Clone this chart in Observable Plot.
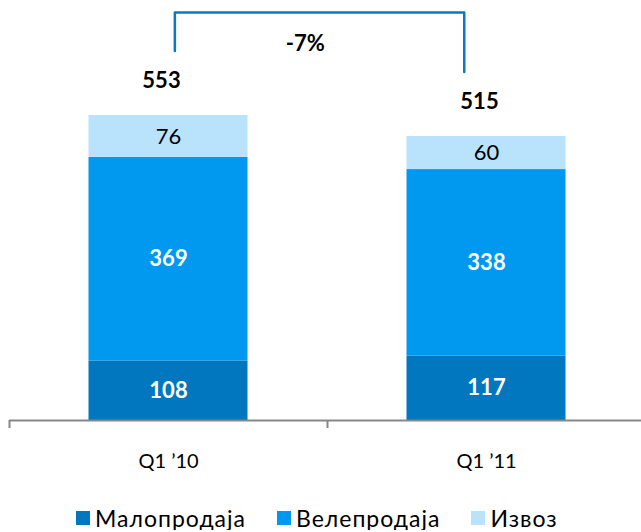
<!DOCTYPE html>
<html><head><meta charset="utf-8">
<script src="https://cdn.jsdelivr.net/npm/d3@7"></script>
<script src="https://cdn.jsdelivr.net/npm/@observablehq/plot@0.6"></script>
<style>
body{margin:0;background:#fff;font-family:Lato,"Open Sans",sans-serif;}
#legend{display:flex;align-items:center;height:24px;margin-top:6px;padding-left:76px;font-size:23px;letter-spacing:1px;color:#000;}
.item{display:flex;align-items:center;margin-right:31px;}
.sw{width:14px;height:14px;margin-right:5px;}
</style></head><body>
<div id="chart"></div>
<div id="legend"></div>
<script>
const categories = ["Q1 \u201910", "Q1 \u201911"];
const series = ["Малопродаја", "Велепродаја", "Извоз"];
const retail = [108, 117];
const wholesale = [369, 338];
const exportVals = [76, 60];
const totals = [553, 515];
const colors = ["#0077BE", "#0099EF", "#B9E3FD"];

const seriesValues = [retail, wholesale, exportVals];
const rows = [];
categories.forEach((c, i) => {
  let acc = 0;
  seriesValues.forEach((vals, s) => {
    const v = vals[i];
    rows.push({i, cat: c, s, name: series[s], value: v, y1: acc, y2: acc + v, mid: acc + v / 2});
    acc += v;
  });
});
const totalRows = categories.map((c, i) => ({i, total: totals[i]}));

// bracket annotation derived from totals
const gap = 117;
const topY = Math.max(...totals) + 187;
const bx = [0.52, 1.43];
const bracket = [
  {x: bx[0], y: totals[0] + gap},
  {x: bx[0], y: topY},
  {x: bx[1], y: topY},
  {x: bx[1], y: totals[1] + gap}
];
const pct = Math.round((totals[1] - totals[0]) / totals[0] * 100);

const pxPerUnit = 0.5515;
const chart = Plot.plot({
  width: 641,
  height: 500,
  marginTop: 0,
  marginLeft: 9,
  marginRight: 0,
  marginBottom: 80,
  style: {fontFamily: "Lato, 'Open Sans', sans-serif", background: "white", overflow: "visible"},
  x: {type: "linear", domain: [0, 2], range: [9, 645]},
  y: {domain: [0, 420 / pxPerUnit], range: [420, 0], axis: null},
  marks: [
    Plot.rectY(rows, {x1: d => d.i + 0.25, x2: d => d.i + 0.75, y1: "y1", y2: "y2", fill: d => colors[d.s]}),
    Plot.ruleY([0], {stroke: "#878787", strokeWidth: 2}),
    Plot.axisX({ticks: [0, 1, 2], tickSize: 8, tickFormat: () => "", label: null, stroke: "#878787", strokeWidth: 2}),
    Plot.text(rows.filter(d => d.s < 2), {x: d => d.i + 0.5, y: "mid", text: d => String(d.value), fill: "white", fontWeight: "bold", fontSize: 22}),
    Plot.text(rows.filter(d => d.s === 2), {x: d => d.i + 0.5, y: "mid", text: d => String(d.value), fill: "black", fontSize: 22}),
    Plot.text(totalRows, {x: d => d.i + 0.5, y: "total", dy: -35, dx: -7, text: d => String(d.total), fill: "black", fontWeight: "bold", fontSize: 22}),
    Plot.text(categories, {x: (d, i) => i + 0.5, y: 0, dy: 41, text: d => d, fill: "black", fontSize: 20}),
    Plot.line(bracket, {x: "x", y: "y", stroke: "#0A78C2", strokeWidth: 2.5}),
    Plot.text([pct], {x: 0.93, y: topY - 58, text: d => d + "%", fill: "black", fontWeight: "bold", fontSize: 22})
  ]
});
document.getElementById("chart").appendChild(chart);

const legend = document.getElementById("legend");
series.forEach((name, s) => {
  const it = document.createElement("div");
  it.className = "item";
  const sw = document.createElement("span");
  sw.className = "sw";
  sw.style.background = colors[s];
  const tx = document.createElement("span");
  tx.textContent = name;
  it.appendChild(sw); it.appendChild(tx);
  legend.appendChild(it);
});
</script>
</body></html>
